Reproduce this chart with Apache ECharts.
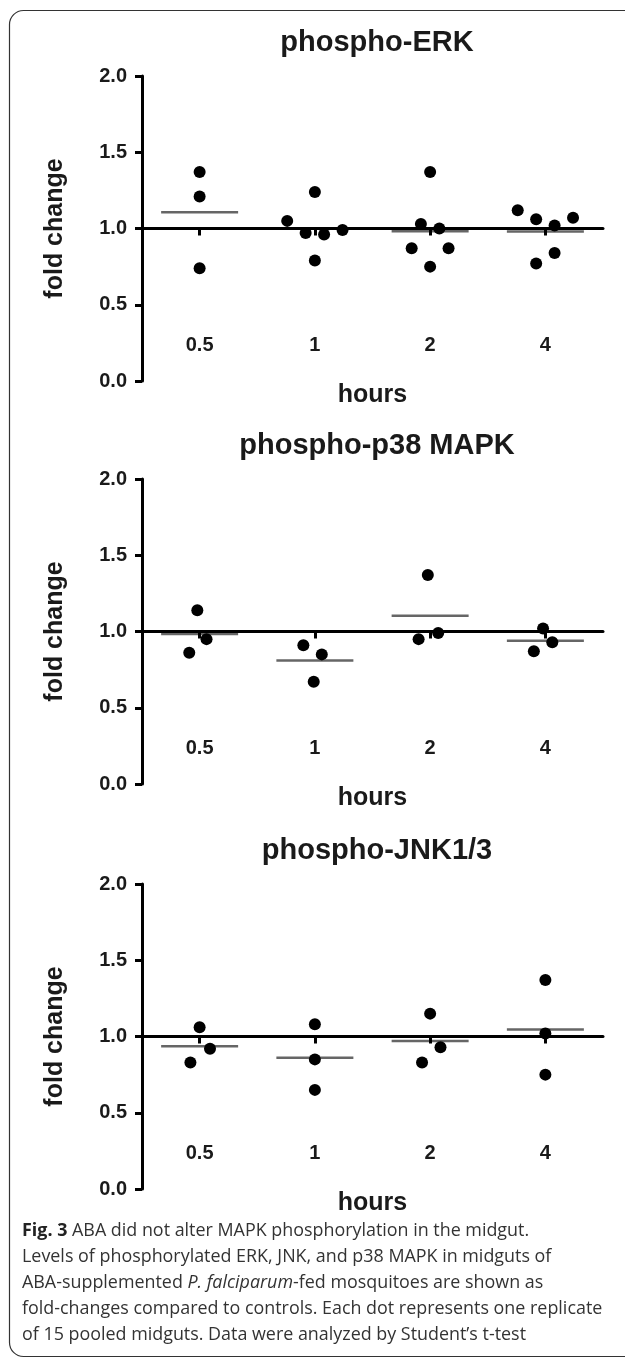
<!DOCTYPE html>
<html>
<head>
<meta charset="utf-8">
<script src="https://cdn.jsdelivr.net/npm/echarts@6/dist/echarts.min.js"></script>
<style>
  html, body { margin: 0; padding: 0; background: #fff; }
  #chart { width: 625px; height: 1358px; }
</style>
</head>
<body>
<div id="chart"></div>
<script>
// categories (hours after feeding)
var hours = ['0.5', '1', '2', '4'];
var yTicks = [0, 0.5, 1, 1.5, 2];

// fold change per replicate, one list per time point
var erkValues = [
  [1.37, 1.21, 0.74],
  [1.05, 0.97, 0.96, 0.99, 1.24, 0.79],
  [1.37, 1.03, 1.00, 0.87, 0.87, 0.75],
  [1.12, 1.06, 1.02, 1.07, 0.77, 0.84]
];
// horizontal scatter of the dots, in fractions of a category band
var erkJitter = [
  [0, 0, 0],
  [-0.24, -0.08, 0.08, 0.24, 0, 0],
  [0, -0.08, 0.08, -0.16, 0.16, 0],
  [-0.24, -0.08, 0.08, 0.24, -0.08, 0.08]
];

var p38Values = [
  [1.14, 0.95, 0.86],
  [0.91, 0.85, 0.67],
  [1.37, 0.95, 0.99],
  [1.02, 0.93, 0.87]
];
var p38Jitter = [
  [-0.02, 0.06, -0.09],
  [-0.1, 0.06, -0.01],
  [-0.02, -0.1, 0.07],
  [-0.02, 0.06, -0.1]
];

var jnkValues = [
  [1.06, 0.92, 0.83],
  [1.08, 0.85, 0.65],
  [1.15, 0.93, 0.83],
  [1.37, 1.02, 0.75]
];
var jnkJitter = [
  [0, 0.09, -0.08],
  [0, 0, 0],
  [0, 0.09, -0.07],
  [0, 0, 0]
];

var titles = ['phospho-ERK', 'phospho-p38 MAPK', 'phospho-JNK1/3'];
var captionLines = [
  '{b|Fig. 3} ABA did not alter MAPK phosphorylation in the midgut.',
  'Levels of phosphorylated ERK, JNK, and p38 MAPK in midguts of',
  'ABA-supplemented {i|P. falciparum}-fed mosquitoes are shown as',
  'fold-changes compared to controls. Each dot represents one replicate',
  'of 15 pooled midguts. Data were analyzed by Student\u2019s t-test'
];

var panels = [
  {values: erkValues, jitter: erkJitter},
  {values: p38Values, jitter: p38Jitter},
  {values: jnkValues, jitter: jnkJitter}
];

var FONT = '"Liberation Sans", Arial, sans-serif';
var INK = '#1a1a1a';
var gridTops = [76, 479, 884];
var gridH = 305;

function mean(arr) {
  var s = 0;
  for (var i = 0; i < arr.length; i++) s += arr[i];
  return s / arr.length;
}

var grid = [], xAxis = [], yAxis = [], series = [], title = [];

panels.forEach(function (p, i) {
  grid.push({left: 142, width: 461, top: gridTops[i], height: gridH});

  title.push({
    text: titles[i], left: 372, top: gridTops[i] - 53, textAlign: 'center',
    textStyle: {fontFamily: FONT, fontWeight: 'bold', fontSize: 29, color: INK}
  });

  // labels + "hours" name
  xAxis.push({
    type: 'category', gridIndex: i, data: hours, position: 'bottom',
    axisLine: {show: false, onZero: false}, axisTick: {show: false}, splitLine: {show: false},
    axisLabel: {inside: true, margin: 26, fontFamily: FONT, fontWeight: 'bold', fontSize: 20, color: INK},
    name: 'hours', nameLocation: 'middle', nameGap: -6,
    nameTextStyle: {fontFamily: FONT, fontWeight: 'bold', fontSize: 25, color: INK}
  });
  // baseline at fold change 1.0
  xAxis.push({
    type: 'category', gridIndex: i, data: hours, position: 'bottom', offset: -gridH / 2,
    axisLine: {show: true, onZero: false, lineStyle: {color: '#000', width: 3}},
    axisTick: {show: true, alignWithLabel: true, length: 7, lineStyle: {color: '#000', width: 3}},
    axisLabel: {show: false}, splitLine: {show: false}, z: 3
  });
  // hidden value axis used to place the dots
  xAxis.push({type: 'value', gridIndex: i, min: -0.5, max: 3.5, show: false, axisLine: {onZero: false}});

  yAxis.push({
    type: 'value', gridIndex: i, min: 0, max: 2, interval: 0.5,
    axisLine: {show: true, onZero: false, lineStyle: {color: '#000', width: 3}},
    axisTick: {show: true, length: 7, lineStyle: {color: '#000', width: 3}},
    splitLine: {show: false},
    axisLabel: {
      margin: 15, fontFamily: FONT, fontWeight: 'bold', fontSize: 20, color: INK,
      formatter: function (v) { return yTicks.indexOf(v) >= 0 ? v.toFixed(1) : ''; }
    },
    name: 'fold change', nameLocation: 'middle', nameGap: 74,
    nameTextStyle: {fontFamily: FONT, fontWeight: 'bold', fontSize: 25, color: INK}
  });

  var dots = [];
  p.values.forEach(function (vals, g) {
    vals.forEach(function (v, k) { dots.push([g + p.jitter[g][k], v]); });
  });
  var means = p.values.map(function (vals, g) { return [g, mean(vals)]; });

  series.push({
    type: 'scatter', xAxisIndex: i * 3 + 2, yAxisIndex: i, data: means,
    symbol: 'rect', symbolSize: [77, 2.5], itemStyle: {color: '#666', opacity: 1}, z: 1, silent: true
  });
  series.push({
    type: 'scatter', xAxisIndex: i * 3 + 2, yAxisIndex: i, data: dots,
    symbolSize: 12, itemStyle: {color: '#000', opacity: 1}, z: 5, silent: true
  });
});

var graphic = [{
  type: 'rect', silent: true,
  shape: {x: 9.5, y: 10.5, width: 640, height: 1346, r: 14},
  style: {fill: 'none', stroke: '#333', lineWidth: 1.2}
}];
captionLines.forEach(function (line, i) {
  graphic.push({
    type: 'text', x: 22, y: 1231 + i * 26, silent: true,
    style: {
      text: line, fill: '#333', verticalAlign: 'middle',
      font: '17.9px "Open Sans", sans-serif',
      rich: {
        b: {fontWeight: 'bold', fontFamily: 'Open Sans', fontSize: 17.9, fill: '#222'},
        i: {fontStyle: 'italic', fontFamily: 'Open Sans', fontSize: 17.9, fill: '#333'}
      }
    }
  });
});

var chart = echarts.init(document.getElementById('chart'));
chart.setOption({
  backgroundColor: '#fff',
  animation: false,
  title: title,
  grid: grid,
  xAxis: xAxis,
  yAxis: yAxis,
  series: series,
  graphic: graphic
});
</script>
</body>
</html>
